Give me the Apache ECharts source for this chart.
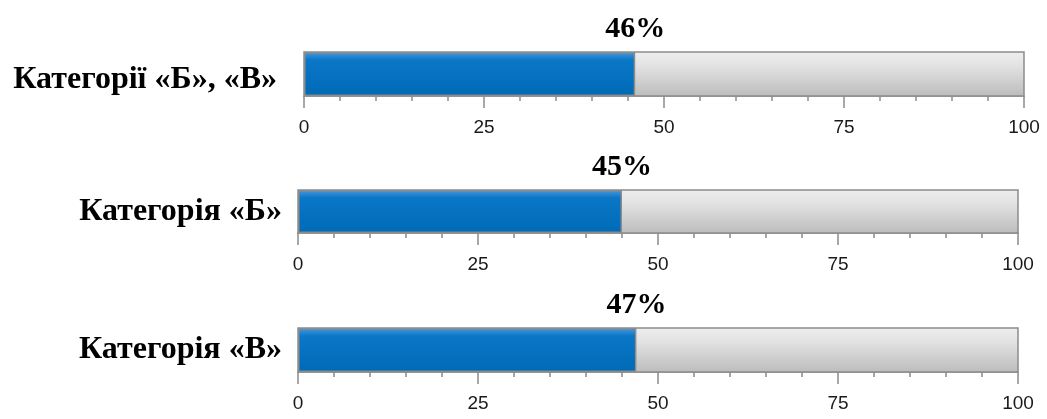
<!DOCTYPE html>
<html>
<head>
<meta charset="utf-8">
<script src="https://cdn.jsdelivr.net/npm/echarts@6/dist/echarts.min.js"></script>
<style>
  html, body { margin: 0; padding: 0; background: #fff; }
  #main { width: 1047px; height: 419px; }
</style>
</head>
<body>
<div id="main"></div>
<script>
// data
const categories = ["Категорії «Б», «В»", "Категорія «Б»", "Категорія «В»"];
const values = [46, 45, 47];
const axisMin = 0;
const axisMax = 100;
const axisStep = 25;

// each bar lives in its own grid
const layout = [
    { left: 304, right: 23, top: 52, height: 44, labelMargin: 27, labelPad: 11 },
    { left: 298, right: 29, top: 190, height: 43, labelMargin: 16, labelPad: 0 },
    { left: 298, right: 29, top: 328, height: 44, labelMargin: 16, labelPad: 0 },
];

var chart = echarts.init(document.getElementById("main"));

const grey = "#8c8c8c";
const serif = "'Liberation Serif', 'Times New Roman', serif";

var blueFill = new echarts.graphic.LinearGradient(0, 0, 0, 1, [
    { offset: 0, color: "#4b98da" },
    { offset: 0.18, color: "#0a77c7" },
    { offset: 1, color: "#006ab6" },
]);
var greyFill = new echarts.graphic.LinearGradient(0, 0, 0, 1, [
    { offset: 0, color: "#eeeeee" },
    { offset: 0.3, color: "#e3e3e3" },
    { offset: 1, color: "#bcbcbc" },
]);

var grids = [], xAxes = [], yAxes = [], series = [];
categories.forEach(function (cat, i) {
    var g = layout[i];
    grids.push({ left: g.left, right: g.right, top: g.top, height: g.height });
    xAxes.push({
        type: "value",
        gridIndex: i,
        min: axisMin,
        max: axisMax,
        interval: axisStep,
        axisLine: { show: true, lineStyle: { color: grey, width: 1.5 } },
        axisTick: { show: true, length: 12, lineStyle: { color: grey, width: 1.5 } },
        minorTick: { show: true, splitNumber: 5, length: 5, lineStyle: { color: grey, width: 1.5 } },
        splitLine: { show: false },
        axisLabel: {
            margin: 22,
            color: "#1a1a1a",
            fontSize: 19,
            fontFamily: "'Liberation Sans', Arial, sans-serif",
        },
    });
    yAxes.push({
        type: "category",
        gridIndex: i,
        data: [cat],
        axisLine: { show: false },
        axisTick: { show: false },
        axisLabel: {
            margin: g.labelMargin,
            formatter: function (v) { return "{t|" + v + "}"; },
            rich: {
                t: {
                    padding: [g.labelPad, 0, 0, 0],
                    color: "#000",
                    fontSize: 32,
                    fontWeight: "bold",
                    fontFamily: serif,
                },
            },
        },
    });
    series.push({
        type: "bar",
        xAxisIndex: i,
        yAxisIndex: i,
        barWidth: "100%",
        data: [values[i]],
        showBackground: true,
        backgroundStyle: { color: greyFill, borderColor: grey, borderWidth: 1.5 },
        itemStyle: { color: blueFill, borderColor: grey, borderWidth: 1.5 },
        label: {
            show: true,
            position: ["100%", -8],
            align: "center",
            verticalAlign: "bottom",
            formatter: "{c}%",
            color: "#000",
            fontSize: 30,
            fontWeight: "bold",
            fontFamily: serif,
        },
        animation: false,
    });
});

var option = {
    backgroundColor: "#fff",
    animation: false,
    grid: grids,
    xAxis: xAxes,
    yAxis: yAxes,
    series: series,
};

chart.setOption(option);
</script>
</body>
</html>
